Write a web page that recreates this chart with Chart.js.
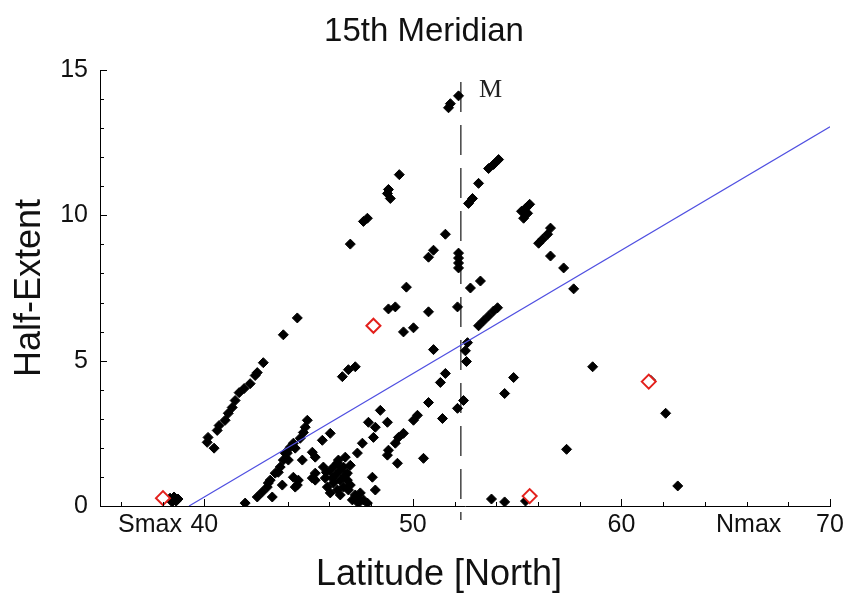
<!DOCTYPE html>
<html><head><meta charset="utf-8">
<script src="https://cdn.jsdelivr.net/npm/chart.js@4.4.1/dist/chart.umd.min.js"></script>
<style>html,body{margin:0;padding:0;background:#fff}</style>
</head><body>
<canvas id="c" width="848" height="594"></canvas>
<script>
// Black observations: latitude (deg North) and half-extent
const latitude = [
 38.36,38.55,38.74,38.46,38.65,
 40.14,40.18,40.47,40.62,40.71,41.00,41.15,41.34,41.48,41.67,41.91,42.20,42.44,42.54,42.83,43.79,44.46,
 41.96,42.54,42.78,43.02,43.16,43.26,43.40,43.64,43.74,43.79,43.98,44.12,44.27,44.27,44.46,44.60,44.75,44.84,44.94,
 44.70,45.18,45.32,45.66,46.04,45.71,45.32,43.88,44.36,44.51,45.18,45.32,
 46.04,46.38,46.67,46.86,46.52,46.19,45.90,46.04,46.67,46.38,46.86,46.43,46.76,46.28,47.00,46.52,45.80,
 46.28,46.76,46.14,46.91,46.52,45.85,47.00,44.03,43.55,43.07,44.36,
 47.34,47.58,48.11,47.87,48.20,48.44,48.78,48.06,48.20,47.24,47.48,47.63,47.10,47.39,47.82,47.34,
 48.83,48.78,49.16,49.31,49.55,49.26,50.03,50.22,50.51,50.75,51.32,51.42,52.14,
 47.00,47.63,47.82,48.78,48.83,48.92,49.35,51.56,50.99,50.75,52.19,52.19,52.19,52.19,
 49.69,49.16,48.83,50.75,52.14,50.03,49.55,50.99,47.24,46.91,46.62,51.56,
 52.19,51.80,51.71,54.11,53.87,53.63,53.15,52.86,52.67,
 55.40,55.50,55.31,55.21,55.60,56.60,56.46,56.22,56.03,56.60,57.23,57.71,
 53.24,52.76,54.06,53.87,53.63,53.39,53.15,52.62,52.52,52.57,54.83,54.40,52.43,
 53.77,54.40,55.40,58.62,57.37,62.12,62.70,61.40
];
const halfExtent = [
 0.27,0.31,0.24,0.14,0.17,
 2.19,2.36,1.99,2.60,2.77,2.95,3.19,3.39,3.63,3.90,4.04,4.21,4.49,4.59,4.93,5.89,6.47,
 0.10,0.31,0.48,0.65,0.89,0.31,1.13,1.34,0.72,1.58,1.82,2.02,2.16,0.99,0.72,2.33,2.53,2.71,2.95,
 1.58,1.85,1.68,2.26,2.50,1.34,0.89,1.82,0.65,0.89,0.96,1.13,
 1.23,1.47,1.34,1.13,0.89,0.79,0.65,0.45,0.65,0.55,0.89,1.58,1.68,1.06,1.40,1.23,0.96,
 1.40,1.06,0.96,0.55,0.38,1.16,0.72,1.58,1.16,0.79,1.99,
 1.82,2.16,2.36,2.88,2.71,3.29,2.88,0.99,0.55,0.38,0.45,0.21,0.21,0.10,0.10,0.27,
 1.92,1.75,2.16,2.36,2.50,1.47,2.95,3.12,1.64,3.56,4.25,3.01,3.36,
 9.01,9.79,9.90,10.75,10.89,10.58,11.40,9.35,8.80,8.56,8.70,8.53,8.36,8.19,
 7.53,6.85,6.78,6.68,6.85,6.13,5.99,5.38,4.79,4.69,4.45,4.56,
 14.11,13.84,13.70,11.92,11.75,11.61,11.10,10.58,10.41,
 10.24,10.07,9.90,10.14,10.38,9.56,9.35,9.18,9.04,8.60,8.19,7.47,
 7.74,7.50,6.82,6.71,6.54,6.37,6.20,5.62,5.34,4.97,4.42,3.87,3.63,
 0.24,0.14,0.17,4.79,1.95,3.19,0.69,4.33
];
// Red (flagged) observations
const flaggedLatitude = [38.02, 48.11, 55.60, 61.31];
const flaggedExtent   = [0.27, 6.20, 0.34, 4.28];
// Trend line end points
const trendLatitude = [39.27, 70];
const trendExtent   = [0, 13.05];
// Meridian marker
const meridianLatitude = 52.3;
const meridianExtent = [14.59, -0.48];
const meridianLabel = 'M';
const meridianLabelPos = [53.72, 14.3];
// Axis ticks and titles
const xTickValues = [37.4, 40, 50, 60, 66.1, 70];
const xTickLabels = ['Smax', '40', '50', '60', 'Nmax', '70'];
const yTickValues = [0, 5, 10, 15];
const xAxisTitle = 'Latitude [North]';
const chartTitle = '15th Meridian';

const toPts = (xs, ys) => xs.map((v, i) => ({x: v, y: ys[i]}));
const FONT = '"Liberation Sans", Arial, sans-serif';

const decor = {
  id: 'decor',
  afterDatasetsDraw(chart) {
    const {ctx, scales: {x, y}} = chart;
    ctx.save();
    ctx.strokeStyle = '#000';
    ctx.lineWidth = 1;
    ctx.beginPath();
    for (let v = 36; v <= 70; v += 2) {
      const px = Math.round(x.getPixelForValue(v)) + 0.5;
      const len = v % 10 === 0 ? 7 : 4;
      ctx.moveTo(px, y.bottom); ctx.lineTo(px, y.bottom - len);
    }
    for (let v = 1; v <= 15; v++) {
      const py = Math.round(y.getPixelForValue(v)) + 0.5;
      const len = v % 5 === 0 ? 7 : 4;
      ctx.moveTo(x.left, py); ctx.lineTo(x.left + len, py);
    }
    ctx.stroke();
    ctx.font = '26px "Liberation Serif", "Times New Roman", serif';
    ctx.fillStyle = '#222';
    ctx.textAlign = 'center';
    ctx.textBaseline = 'middle';
    ctx.fillText(meridianLabel, x.getPixelForValue(meridianLabelPos[0]), y.getPixelForValue(meridianLabelPos[1]));
    ctx.fillStyle = '#111';
    // x-axis title (left of the plot centre, as in the original)
    ctx.font = '36px ' + FONT;
    ctx.fillText(xAxisTitle, (x.left + x.right) / 2 - 26, chart.height - 19);
    // chart title centred on the page
    ctx.font = '33px ' + FONT;
    ctx.fillText(chartTitle, chart.width / 2, 32);
    ctx.restore();
  }
};

new Chart(document.getElementById('c'), {
  type: 'scatter',
  data: {
    datasets: [
      { type: 'line', data: toPts(trendLatitude, trendExtent), borderColor: 'rgb(80,80,225)', borderWidth: 1.2,
        pointRadius: 0, fill: false, tension: 0 },
      { data: toPts(flaggedLatitude, flaggedExtent), pointStyle: 'rectRot', pointRadius: 7,
        borderColor: '#e3201c', backgroundColor: '#fff', borderWidth: 2 },
      { data: toPts(latitude, halfExtent), pointStyle: 'rectRot', pointRadius: 5,
        borderColor: '#000', backgroundColor: '#000', borderWidth: 1 },
      { type: 'line', data: meridianExtent.map(v => ({x: meridianLatitude, y: v})), borderColor: '#444',
        borderWidth: 1.5, borderDash: [30, 13], pointRadius: 0, fill: false, clip: false }
    ]
  },
  options: {
    responsive: false,
    animation: false,
    devicePixelRatio: 1,
    layout: { padding: { left: 0, right: 18, top: 70, bottom: 0 } },
    plugins: {
      legend: { display: false },
      tooltip: { enabled: false },
      title: { display: false }
    },
    scales: {
      x: {
        type: 'linear', min: 35, max: 70,
        afterBuildTicks: s => { s.ticks = xTickValues.map(v => ({value: v})); },
        afterFit: s => { s.height = 88; },
        ticks: { autoSkip: false, maxRotation: 0, padding: 4, color: '#111',
          font: { family: FONT, size: 25 },
          callback: (v, i) => xTickLabels[i] },
        grid: { drawOnChartArea: false, drawTicks: false },
        border: { display: true, color: '#000', width: 1 },
        title: { display: false }
      },
      y: {
        type: 'linear', min: 0, max: 15,
        afterBuildTicks: s => { s.ticks = yTickValues.map(v => ({value: v})); },
        afterFit: s => { s.width = 100; },
        ticks: { padding: 12, color: '#111', font: { family: FONT, size: 25 } },
        grid: { drawOnChartArea: false, drawTicks: false },
        border: { display: true, color: '#000', width: 1 },
        title: { display: true, text: 'Half-Extent', color: '#111',
          font: { family: FONT, size: 36, lineHeight: 1.2 }, padding: { top: 8, bottom: 0 } }
      }
    }
  },
  plugins: [decor]
});
</script>
</body></html>
